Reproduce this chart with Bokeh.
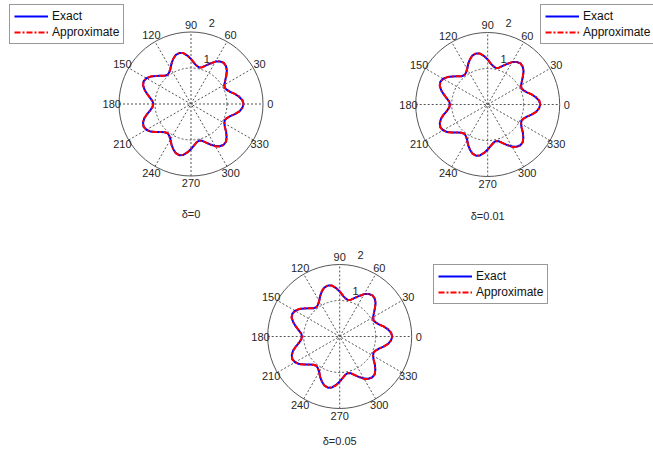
import numpy as np
from bokeh.plotting import figure
from bokeh.models import Range1d, Legend, LegendItem
from bokeh.embed import file_html
from bokeh.resources import INLINE
from bokeh.core.properties import value

# ---------------- data ----------------
theta_deg = [
    0.0, 4.3, 8.6, 12.9, 17.1, 21.4, 25.7, 30.0, 34.3, 38.6, 42.9, 47.1,
    51.4, 55.7, 60.0, 64.3, 68.6, 72.9, 77.1, 81.4, 85.7, 90.0, 94.3, 98.6,
    102.9, 107.1, 111.4, 115.7, 120.0, 124.3, 128.6, 132.9, 137.1, 141.4, 145.7, 150.0,
    154.3, 158.6, 162.9, 167.1, 171.4, 175.7, 180.0, 184.3, 188.6, 192.9, 197.1, 201.4,
    205.7, 210.0, 214.3, 218.6, 222.9, 227.1, 231.4, 235.7, 240.0, 244.3, 248.6, 252.9,
    257.1, 261.4, 265.7, 270.0, 274.3, 278.6, 282.9, 287.1, 291.4, 295.7, 300.0, 304.3,
    308.6, 312.9, 317.1, 321.4, 325.7, 330.0, 334.3, 338.6, 342.9, 347.1, 351.4, 355.7,
]

r_exact = [
    1.46, 1.43, 1.35, 1.25, 1.14, 1.07, 1.04, 1.07, 1.15, 1.25, 1.36, 1.43,
    1.46, 1.43, 1.36, 1.25, 1.15, 1.07, 1.04, 1.07, 1.14, 1.25, 1.35, 1.43,
    1.45, 1.43, 1.35, 1.25, 1.14, 1.07, 1.04, 1.07, 1.15, 1.25, 1.35, 1.43,
    1.46, 1.43, 1.35, 1.25, 1.15, 1.07, 1.05, 1.07, 1.14, 1.25, 1.36, 1.43,
    1.46, 1.43, 1.36, 1.25, 1.14, 1.07, 1.04, 1.07, 1.14, 1.25, 1.35, 1.43,
    1.46, 1.43, 1.35, 1.25, 1.15, 1.07, 1.04, 1.07, 1.15, 1.25, 1.35, 1.42,
    1.45, 1.43, 1.35, 1.25, 1.14, 1.07, 1.04, 1.07, 1.14, 1.25, 1.36, 1.43,
]

r_approx_d0 = [
    1.46, 1.43, 1.36, 1.25, 1.14, 1.07, 1.04, 1.07, 1.15, 1.26, 1.36, 1.43,
    1.46, 1.44, 1.36, 1.25, 1.15, 1.07, 1.04, 1.08, 1.15, 1.25, 1.35, 1.43,
    1.46, 1.43, 1.35, 1.24, 1.14, 1.07, 1.04, 1.07, 1.15, 1.25, 1.36, 1.43,
    1.46, 1.43, 1.35, 1.25, 1.15, 1.08, 1.05, 1.07, 1.14, 1.25, 1.36, 1.44,
    1.46, 1.43, 1.36, 1.25, 1.14, 1.07, 1.04, 1.07, 1.15, 1.25, 1.35, 1.43,
    1.46, 1.43, 1.35, 1.25, 1.15, 1.07, 1.04, 1.07, 1.15, 1.26, 1.36, 1.43,
    1.46, 1.43, 1.35, 1.25, 1.14, 1.07, 1.04, 1.07, 1.14, 1.25, 1.36, 1.43,
]

r_approx_d001 = [
    1.46, 1.44, 1.36, 1.25, 1.15, 1.07, 1.04, 1.07, 1.15, 1.25, 1.36, 1.43,
    1.46, 1.43, 1.36, 1.26, 1.15, 1.07, 1.04, 1.07, 1.14, 1.25, 1.36, 1.43,
    1.46, 1.43, 1.35, 1.25, 1.14, 1.07, 1.05, 1.07, 1.15, 1.25, 1.35, 1.43,
    1.46, 1.43, 1.36, 1.25, 1.15, 1.07, 1.05, 1.07, 1.14, 1.26, 1.36, 1.43,
    1.46, 1.44, 1.36, 1.25, 1.14, 1.07, 1.04, 1.07, 1.15, 1.25, 1.35, 1.43,
    1.46, 1.43, 1.35, 1.25, 1.15, 1.08, 1.04, 1.07, 1.15, 1.25, 1.36, 1.43,
    1.46, 1.43, 1.35, 1.25, 1.14, 1.07, 1.04, 1.07, 1.15, 1.25, 1.36, 1.43,
]

r_approx_d005 = [
    1.46, 1.43, 1.36, 1.25, 1.14, 1.07, 1.04, 1.08, 1.15, 1.25, 1.36, 1.44,
    1.46, 1.43, 1.36, 1.25, 1.15, 1.07, 1.04, 1.07, 1.15, 1.25, 1.35, 1.43,
    1.46, 1.43, 1.36, 1.25, 1.14, 1.07, 1.04, 1.07, 1.15, 1.26, 1.36, 1.43,
    1.46, 1.44, 1.35, 1.25, 1.15, 1.07, 1.05, 1.07, 1.15, 1.25, 1.36, 1.43,
    1.46, 1.43, 1.36, 1.25, 1.15, 1.07, 1.04, 1.07, 1.14, 1.25, 1.35, 1.43,
    1.46, 1.43, 1.36, 1.25, 1.15, 1.07, 1.04, 1.07, 1.15, 1.25, 1.36, 1.43,
    1.46, 1.43, 1.35, 1.25, 1.14, 1.07, 1.04, 1.07, 1.15, 1.25, 1.36, 1.43,
]

angle_ticks = [0, 30, 60, 90, 120, 150, 180, 210, 240, 270, 300, 330]
radial_ticks = [1, 2]
r_max = 2
captions = ["\u03b4=0", "\u03b4=0.01", "\u03b4=0.05"]
series_labels = ["Exact", "Approximate"]
approx_series = [r_approx_d0, r_approx_d001, r_approx_d005]

# ---------------- layout (page pixels) ----------------
W, H = 653, 455
PX = 36.0  # pixels per radial unit


def to_units(px, py):
    return px / PX, (H - py) / PX


panel_centers_px = [(190.5, 103.5), (487.2, 104.0), (339.2, 336.0)]
caption_drop_px = [110, 111, 104]
legend_boxes_px = [(9, 6), (540, 6), (433, 266)]  # top-left corner of each legend
LEG_H = 38

FONT_NAME = "Liberation Sans"
FONT = value(FONT_NAME)
TXT = "#262626"
GRID = "#555555"

p = figure(width=W, height=H, x_range=Range1d(0, W / PX), y_range=Range1d(0, H / PX),
           output_backend="svg", toolbar_location=None, min_border=0)
p.axis.visible = False
p.xgrid.visible = False
p.ygrid.visible = False
p.outline_line_color = None
p.background_fill_color = "white"
p.border_fill_color = "white"

th = np.deg2rad(np.array(theta_deg + [theta_deg[0]]))
ticks = np.deg2rad(np.array(angle_ticks, dtype=float))
c82, s82 = np.cos(np.deg2rad(82)), np.sin(np.deg2rad(82))

for i, (cpx, cpy) in enumerate(panel_centers_px):
    cx, cy = to_units(cpx, cpy)

    # inner dotted rings and outer solid ring
    for rt in radial_ticks:
        if rt < r_max:
            p.circle(x=[cx], y=[cy], radius=rt, fill_color=None, line_color=GRID,
                     line_width=1, line_dash="2 2")
    p.circle(x=[cx], y=[cy], radius=r_max, fill_color=None, line_color=GRID, line_width=1)

    # spokes (full diameters)
    half = ticks[:6]
    p.segment(x0=cx - r_max * np.cos(half), y0=cy - r_max * np.sin(half),
              x1=cx + r_max * np.cos(half), y1=cy + r_max * np.sin(half),
              line_color=GRID, line_width=1, line_dash="2 2")

    # angle labels
    p.text(x=cx + 1.1 * r_max * np.cos(ticks), y=cy + 1.1 * r_max * np.sin(ticks),
           text=[str(a) for a in angle_ticks], text_align="center", text_baseline="middle",
           text_font=FONT, text_font_size="11px", text_color=TXT)

    # radial labels
    rt = np.array(radial_ticks, dtype=float)
    p.text(x=cx + rt * c82 + 0.30, y=cy + rt * s82 + 0.27,
           text=[str(v) for v in radial_ticks], text_align="center", text_baseline="middle",
           text_font=FONT, text_font_size="11px", text_color=TXT)

    # curves
    re = np.array(r_exact + [r_exact[0]])
    ra_list = approx_series[i]
    ra = np.array(ra_list + [ra_list[0]])
    blue = p.line(cx + re * np.cos(th), cy + re * np.sin(th), line_color="#0000FF", line_width=2)
    red = p.line(cx + ra * np.cos(th), cy + ra * np.sin(th), line_color="#FF0000", line_width=2,
                 line_dash="6 2 2 2")

    # caption
    capx, capy = to_units(cpx, cpy + caption_drop_px[i])
    p.text(x=[capx], y=[capy], text=[captions[i]], text_align="center", text_baseline="middle",
           text_font=FONT, text_font_size="11px", text_color=TXT)

    # legend
    lx, ly = legend_boxes_px[i]
    leg = Legend(items=[LegendItem(label=series_labels[0], renderers=[blue]),
                        LegendItem(label=series_labels[1], renderers=[red])],
                 location=(lx, H - ly - LEG_H),
                 orientation="vertical", margin=0, padding=4, spacing=2,
                 glyph_width=34, glyph_height=14, label_height=14, label_standoff=4,
                 label_text_font=FONT_NAME, label_text_font_size="12px", label_text_color="#111111",
                 border_line_color="#333333", border_line_width=1,
                 background_fill_color="white", background_fill_alpha=1.0)
    p.add_layout(leg)

open("out.html", "w").write(file_html(p, INLINE))
